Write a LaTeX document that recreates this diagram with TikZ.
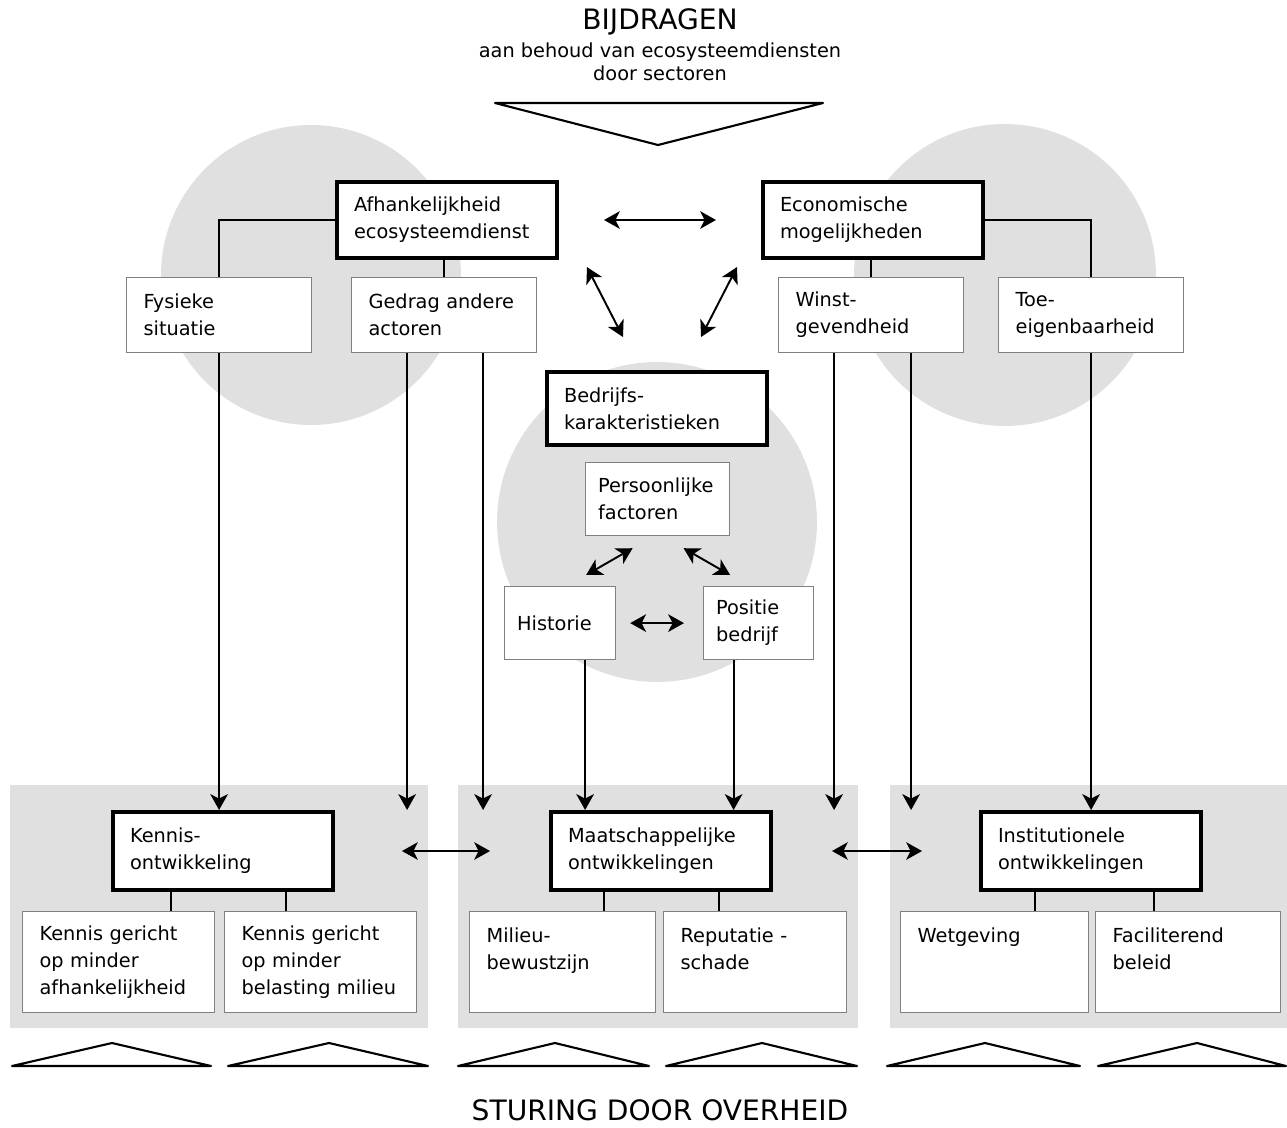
\documentclass[tikz,border=0pt]{standalone}
\usepackage{fontspec}
\setmainfont{DejaVu Sans}
\usetikzlibrary{positioning,arrows.meta}
\definecolor{lichtgrijs}{HTML}{E0E0E0}
\definecolor{randgrijs}{HTML}{808080}

\begin{document}
\begin{tikzpicture}[
    x = 0.02cm, y = -0.02cm,
    tekst/.style = {font=\fontsize{11}{15.4}\selectfont},
    hoofd/.style = {tekst, draw, line width=2.3pt, fill=white, anchor=north west, align=left, text width=3.72cm, inner xsep=0.34cm, inner ysep=0pt},
    box/.style = {tekst, draw=randgrijs, line width=0.7pt, fill=white, anchor=north west, align=left, inner xsep=0.34cm, inner ysep=0pt},
    klein/.style = {box, inner xsep=0.25cm, minimum height=1.46cm},
    sub/.style = {box, text width=#1, minimum height=2.02cm},
    lijn/.style = {line width=1.1pt},
    driehoek/.style = {line width=1.2pt, fill=white, line join=round},
    > = {Stealth[length=9pt, width=10pt, inset=2.5pt]}
]
\useasboundingbox (0,0) rectangle (1287,1128);

% achtergrond
\fill[lichtgrijs] (311,275) circle[radius=3cm];
\fill[lichtgrijs] (1005,275) circle[radius=3.02cm];
\fill[lichtgrijs] (657,522) circle[radius=3.2cm];
\fill[lichtgrijs] (10,785) rectangle (428,1028);
\fill[lichtgrijs] (458,785) rectangle (858,1028);
\fill[lichtgrijs] (890,785) rectangle (1287,1028);

% kop en voet
\node (titel) at (660,22) [font=\fontsize{16}{18}\selectfont] {BIJDRAGEN};
\node (ondertitel) at (660,62) [align=center, font=\fontsize{11}{13}\selectfont] {aan behoud van ecosysteemdiensten\\door sectoren};
\draw[driehoek] (495,103) -- (823,103) -- (658,145) -- cycle;
\node (sturing) at (660,1110) [font=\fontsize{16}{18}\selectfont] {STURING DOOR OVERHEID};

\draw[driehoek] (12,1066) -- (112,1043) -- (211,1066) -- cycle;
\draw[driehoek] (228,1066) -- (329,1043) -- (428,1066) -- cycle;
\draw[driehoek] (458,1066) -- (555,1043) -- (649,1066) -- cycle;
\draw[driehoek] (666,1066) -- (762,1043) -- (857,1066) -- cycle;
\draw[driehoek] (887,1066) -- (985,1043) -- (1080,1066) -- cycle;
\draw[driehoek] (1098,1066) -- (1197,1043) -- (1286,1066) -- cycle;

% bovenste drie groepen
\node (afh) [hoofd, minimum height=1.52cm] at (335,180) {Afhankelijkheid\\ecosysteemdienst};
\node (eco) [hoofd, minimum height=1.52cm] at (761,180) {Economische\\mogelijkheden};
\node (bed) [hoofd, minimum height=1.46cm] at (545,370) {Bedrijfs-\\karakteristieken};

\node (fys) [box, text width=3.02cm, minimum height=1.5cm] at (126,277) {Fysieke\\situatie};
\node (ged) [box, text width=3.02cm, minimum height=1.5cm] at (351,277) {Gedrag andere\\actoren};
\node (win) [box, text width=3.02cm, minimum height=1.5cm] at (778,277) {Winst-\\gevendheid};
\node (toe) [box, text width=3.02cm, minimum height=1.5cm] at (998,277) {Toe-\\eigenbaarheid};

\node (per) [klein, text width=2.38cm] at (585,462) {Persoonlijke\\factoren};
\node (his) [klein, text width=1.72cm] at (504,586) {Historie};
\node (pos) [klein, text width=1.70cm] at (703,586) {Positie\\bedrijf};

% onderste drie groepen
\node (ken) [hoofd, minimum height=1.56cm] at (111,810) {Kennis-\\ontwikkeling};
\node (maa) [hoofd, minimum height=1.56cm] at (549,810) {Maatschappelijke\\ontwikkelingen};
\node (inst) [hoofd, minimum height=1.56cm] at (979,810) {Institutionele\\ontwikkelingen};

\node (kg1) [sub=3.16cm] at (22,911) {Kennis gericht\\op minder\\afhankelijkheid};
\node (kg2) [sub=3.16cm] at (224,911) {Kennis gericht\\op minder\\belasting milieu};
\node (mil) [sub=3.04cm] at (469,911) {Milieu-\\bewustzijn\\\mbox{}};
\node (rep) [sub=2.98cm] at (663,911) {Reputatie -\\schade\\\mbox{}};
\node (wet) [sub=3.08cm] at (900,911) {Wetgeving\\\mbox{}\\\mbox{}};
\node (fac) [sub=3.02cm] at (1095,911) {Faciliterend\\beleid\\\mbox{}};

% boomlijnen
\draw[lijn] (afh.west) -| (fys.north);
\draw[lijn] (afh.south -| ged.north) -- (ged.north);
\draw[lijn] (eco.east) -| (toe.north);
\draw[lijn] (eco.south -| win.north) -- (win.north);

\draw[lijn] ([xshift=-1.04cm]ken.south) -- ([xshift=-1.04cm]ken.south |- kg1.north);
\draw[lijn] ([xshift=1.26cm]ken.south) -- ([xshift=1.26cm]ken.south |- kg2.north);
\draw[lijn] ([xshift=-1.14cm]maa.south) -- ([xshift=-1.14cm]maa.south |- mil.north);
\draw[lijn] ([xshift=1.16cm]maa.south) -- ([xshift=1.16cm]maa.south |- rep.north);
\draw[lijn] ([xshift=-1.12cm]inst.south) -- ([xshift=-1.12cm]inst.south |- wet.north);
\draw[lijn] ([xshift=1.26cm]inst.south) -- ([xshift=1.26cm]inst.south |- fac.north);

% wisselwerking
\draw[lijn,<->] ([xshift=0.9cm]afh.east) -- ([xshift=-0.9cm]eco.west);
\draw[lijn,<->] ([shift={(0.56cm,-0.14cm)}]afh.south east) -- ([shift={(1.56cm,0.66cm)}]bed.north west);
\draw[lijn,<->] ([shift={(-0.48cm,-0.14cm)}]eco.south west) -- ([shift={(-1.36cm,0.66cm)}]bed.north east);

\draw[lijn,<->] ([shift={(-0.5cm,-0.24cm)}]per.south) -- ([shift={(0.52cm,0.22cm)}]his.north);
\draw[lijn,<->] ([shift={(0.52cm,-0.24cm)}]per.south) -- ([shift={(-0.57cm,0.22cm)}]pos.north);
\draw[lijn,<->] ([xshift=0.28cm]his.east) -- ([xshift=-0.38cm]pos.west);

\draw[lijn,<->] ([xshift=1.34cm]ken.east) -- ([xshift=-1.18cm]maa.west);
\draw[lijn,<->] ([xshift=1.18cm]maa.east) -- ([xshift=-1.14cm]inst.west);

% invloed naar beneden
\draw[lijn,->] (fys.south) -- (fys.south |- ken.north);
\draw[lijn,->] ([xshift=-0.74cm]ged.south) -- ([xshift=-0.74cm]ged.south |- ken.north);
\draw[lijn,->] ([xshift=0.78cm]ged.south) -- ([xshift=0.78cm]ged.south |- maa.north);
\draw[lijn,->] ([xshift=0.5cm]his.south) -- ([xshift=0.5cm]his.south |- maa.north);
\draw[lijn,->] ([xshift=-0.5cm]pos.south) -- ([xshift=-0.5cm]pos.south |- maa.north);
\draw[lijn,->] ([xshift=-0.74cm]win.south) -- ([xshift=-0.74cm]win.south |- maa.north);
\draw[lijn,->] ([xshift=0.8cm]win.south) -- ([xshift=0.8cm]win.south |- inst.north);
\draw[lijn,->] (toe.south) -- (toe.south |- inst.north);
\end{tikzpicture}
\end{document}
